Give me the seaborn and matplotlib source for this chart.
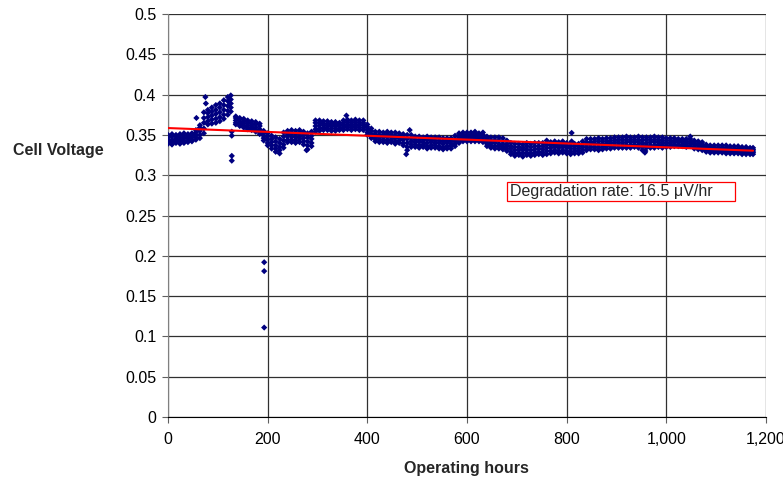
import matplotlib
matplotlib.use("Agg")
import matplotlib.pyplot as plt
import matplotlib.ticker as mticker
from matplotlib.patches import Rectangle
import seaborn as sns
import pandas as pd

# ---- data ----
hours = [0, 8, 16, 24, 32, 40, 48, 56, 64, 72, 80, 88, 96, 104, 112, 120, 126,
         136, 144, 152, 160, 168, 176, 184, 192, 200, 208, 216, 224, 232,
         240, 248, 256, 264, 272, 280, 288, 296, 304, 312, 320, 328, 336, 344,
         352, 360, 368, 376, 384, 392, 400, 408, 416, 424, 432, 440, 448, 456,
         464, 472, 480, 488, 496, 504, 512, 520, 528, 536, 544, 552, 560, 568,
         576, 584, 592, 600, 608, 616, 624, 632, 640, 648, 656, 664, 672, 680,
         688, 696, 704, 712, 720, 728, 736, 744, 752, 760, 768, 776, 784, 792,
         800, 808, 816, 824, 832, 840, 848, 856, 864, 872, 880, 888, 896, 904,
         912, 920, 928, 936, 944, 952, 960, 968, 976, 984, 992, 1000, 1008,
         1016, 1024, 1032, 1040, 1048, 1056, 1064, 1072, 1080, 1088, 1096,
         1104, 1112, 1120, 1128, 1136, 1144, 1152, 1160, 1168, 1174]
v_low = [0.339, 0.338, 0.340, 0.339, 0.340, 0.341, 0.342, 0.344, 0.346, 0.352,
         0.363, 0.364, 0.365, 0.367, 0.370, 0.375, 0.379,
         0.363, 0.361, 0.359, 0.357, 0.356, 0.354, 0.351, 0.343, 0.337, 0.333,
         0.329, 0.327, 0.334,
         0.341, 0.341, 0.340, 0.341, 0.338, 0.332, 0.336, 0.354, 0.355, 0.356,
         0.356, 0.355, 0.355, 0.356, 0.356, 0.357, 0.356, 0.357, 0.356, 0.356,
         0.350, 0.346, 0.342, 0.341, 0.341, 0.340, 0.341, 0.339, 0.340, 0.337,
         0.331, 0.335, 0.335, 0.334, 0.335, 0.333, 0.334, 0.334, 0.333, 0.332,
         0.333, 0.333, 0.336, 0.340, 0.342, 0.342, 0.342, 0.342, 0.342, 0.341,
         0.336, 0.334, 0.333, 0.333, 0.332, 0.330, 0.326, 0.324, 0.325, 0.323,
         0.325, 0.324, 0.325, 0.326, 0.325, 0.326, 0.327, 0.328, 0.327, 0.328,
         0.327, 0.326, 0.327, 0.327, 0.328, 0.331, 0.332, 0.332, 0.331, 0.332,
         0.333, 0.333, 0.334, 0.334, 0.334, 0.334, 0.334, 0.335, 0.334, 0.331,
         0.334, 0.334, 0.334, 0.335, 0.334, 0.335, 0.335, 0.336, 0.336, 0.336,
         0.335, 0.336, 0.333, 0.332, 0.331, 0.329, 0.328, 0.328, 0.328, 0.328,
         0.327, 0.327, 0.327, 0.327, 0.326, 0.326, 0.326, 0.326]
v_q1 = [0.341, 0.341, 0.342, 0.342, 0.343, 0.343, 0.344, 0.347, 0.350, 0.358,
        0.367, 0.369, 0.370, 0.372, 0.375, 0.380, 0.384,
        0.365, 0.363, 0.361, 0.359, 0.358, 0.356, 0.354, 0.346, 0.340, 0.337,
        0.333, 0.331, 0.338,
        0.344, 0.344, 0.343, 0.345, 0.342, 0.337, 0.340, 0.357, 0.358, 0.359,
        0.358, 0.358, 0.358, 0.358, 0.359, 0.360, 0.359, 0.360, 0.359, 0.359,
        0.353, 0.348, 0.345, 0.344, 0.344, 0.343, 0.344, 0.342, 0.343, 0.340,
        0.335, 0.338, 0.338, 0.337, 0.338, 0.336, 0.337, 0.337, 0.336, 0.335,
        0.336, 0.336, 0.339, 0.343, 0.344, 0.345, 0.344, 0.345, 0.344, 0.344,
        0.339, 0.337, 0.336, 0.336, 0.335, 0.333, 0.329, 0.327, 0.328, 0.327,
        0.328, 0.327, 0.328, 0.329, 0.328, 0.330, 0.330, 0.331, 0.330, 0.331,
        0.330, 0.329, 0.330, 0.330, 0.331, 0.334, 0.335, 0.335, 0.334, 0.335,
        0.336, 0.336, 0.337, 0.337, 0.337, 0.337, 0.337, 0.338, 0.337, 0.335,
        0.337, 0.337, 0.337, 0.338, 0.337, 0.337, 0.337, 0.338, 0.338, 0.338,
        0.337, 0.339, 0.335, 0.334, 0.333, 0.331, 0.330, 0.330, 0.330, 0.330,
        0.329, 0.329, 0.329, 0.329, 0.328, 0.328, 0.328, 0.328]
v_mid = [0.344, 0.344, 0.345, 0.344, 0.346, 0.346, 0.347, 0.350, 0.355, 0.365,
         0.372, 0.374, 0.376, 0.378, 0.381, 0.386, 0.389,
         0.368, 0.366, 0.364, 0.362, 0.361, 0.359, 0.357, 0.349, 0.344, 0.341,
         0.337, 0.335, 0.343,
         0.348, 0.348, 0.347, 0.348, 0.346, 0.342, 0.345, 0.361, 0.362, 0.362,
         0.361, 0.361, 0.361, 0.361, 0.362, 0.363, 0.362, 0.363, 0.362, 0.362,
         0.357, 0.351, 0.348, 0.347, 0.347, 0.347, 0.347, 0.346, 0.346, 0.344,
         0.340, 0.342, 0.341, 0.341, 0.341, 0.340, 0.341, 0.340, 0.340, 0.339,
         0.340, 0.339, 0.342, 0.346, 0.347, 0.348, 0.347, 0.348, 0.347, 0.347,
         0.342, 0.340, 0.340, 0.339, 0.338, 0.336, 0.333, 0.331, 0.332, 0.331,
         0.332, 0.331, 0.332, 0.333, 0.332, 0.334, 0.334, 0.335, 0.334, 0.335,
         0.334, 0.333, 0.333, 0.333, 0.335, 0.338, 0.338, 0.339, 0.338, 0.339,
         0.339, 0.340, 0.340, 0.341, 0.340, 0.341, 0.341, 0.341, 0.341, 0.339,
         0.340, 0.341, 0.341, 0.341, 0.340, 0.340, 0.340, 0.341, 0.341, 0.341,
         0.340, 0.342, 0.338, 0.337, 0.336, 0.334, 0.333, 0.332, 0.332, 0.332,
         0.332, 0.331, 0.331, 0.331, 0.330, 0.330, 0.330, 0.330]
v_q3 = [0.347, 0.348, 0.348, 0.347, 0.349, 0.349, 0.350, 0.353, 0.359, 0.371,
        0.377, 0.379, 0.381, 0.384, 0.387, 0.392, 0.394,
        0.371, 0.369, 0.367, 0.365, 0.364, 0.363, 0.361, 0.352, 0.348, 0.345,
        0.342, 0.340, 0.348,
        0.351, 0.352, 0.351, 0.352, 0.350, 0.347, 0.349, 0.365, 0.365, 0.364,
        0.364, 0.363, 0.364, 0.363, 0.365, 0.366, 0.365, 0.366, 0.365, 0.365,
        0.360, 0.355, 0.351, 0.350, 0.350, 0.351, 0.350, 0.349, 0.349, 0.347,
        0.345, 0.346, 0.344, 0.344, 0.344, 0.344, 0.344, 0.343, 0.343, 0.342,
        0.343, 0.342, 0.345, 0.349, 0.350, 0.350, 0.350, 0.351, 0.350, 0.350,
        0.345, 0.343, 0.343, 0.343, 0.342, 0.339, 0.336, 0.335, 0.335, 0.334,
        0.336, 0.335, 0.336, 0.336, 0.336, 0.338, 0.337, 0.338, 0.337, 0.338,
        0.337, 0.336, 0.336, 0.336, 0.338, 0.341, 0.341, 0.342, 0.342, 0.342,
        0.342, 0.343, 0.343, 0.344, 0.344, 0.344, 0.344, 0.344, 0.344, 0.343,
        0.344, 0.344, 0.344, 0.344, 0.343, 0.343, 0.343, 0.343, 0.343, 0.343,
        0.342, 0.345, 0.340, 0.339, 0.338, 0.336, 0.335, 0.334, 0.334, 0.334,
        0.334, 0.333, 0.333, 0.333, 0.332, 0.332, 0.332, 0.332]
v_high = [0.350, 0.351, 0.350, 0.351, 0.352, 0.351, 0.352, 0.356, 0.362, 0.378,
          0.381, 0.384, 0.387, 0.389, 0.393, 0.397, 0.399,
          0.373, 0.371, 0.370, 0.368, 0.367, 0.366, 0.364, 0.355, 0.352, 0.349,
          0.347, 0.345, 0.353,
          0.355, 0.356, 0.355, 0.356, 0.354, 0.352, 0.354, 0.368, 0.368, 0.367,
          0.367, 0.366, 0.366, 0.365, 0.368, 0.369, 0.368, 0.369, 0.368, 0.368,
          0.363, 0.358, 0.354, 0.354, 0.353, 0.354, 0.353, 0.353, 0.352, 0.351,
          0.350, 0.350, 0.348, 0.348, 0.347, 0.348, 0.347, 0.347, 0.347, 0.346,
          0.346, 0.346, 0.349, 0.352, 0.353, 0.353, 0.353, 0.354, 0.352, 0.353,
          0.348, 0.347, 0.347, 0.347, 0.346, 0.343, 0.340, 0.339, 0.339, 0.338,
          0.340, 0.339, 0.340, 0.340, 0.340, 0.343, 0.341, 0.342, 0.341, 0.342,
          0.340, 0.340, 0.339, 0.339, 0.342, 0.345, 0.345, 0.345, 0.346, 0.345,
          0.346, 0.346, 0.347, 0.347, 0.347, 0.348, 0.347, 0.347, 0.348, 0.347,
          0.347, 0.347, 0.348, 0.347, 0.347, 0.346, 0.346, 0.346, 0.345, 0.345,
          0.345, 0.348, 0.343, 0.342, 0.341, 0.338, 0.337, 0.337, 0.337, 0.337,
          0.337, 0.336, 0.336, 0.336, 0.335, 0.335, 0.334, 0.334]

# isolated readings
outlier_hours = [57, 75, 76, 128, 128, 128, 128, 193, 193, 193, 278, 358, 478, 485,
                 810, 810, 957, 958]
outlier_volts = [0.371, 0.397, 0.389, 0.354, 0.349, 0.324, 0.318, 0.192, 0.181, 0.111,
                 0.331, 0.374, 0.326, 0.356, 0.3525, 0.342, 0.328, 0.330]

# linear trend line endpoints
trend_hours = [0, 1174]
trend_volts = [0.3585, 0.3304]

annotation = "Degradation rate: 16.5 \u03bcV/hr"
x_ticks = [0, 200, 400, 600, 800, 1000, 1200]
y_ticks = [0, 0.05, 0.1, 0.15, 0.2, 0.25, 0.3, 0.35, 0.4, 0.45, 0.5]

# ---- build long table ----
pts_h = hours * 5 + outlier_hours
pts_v = v_low + v_q1 + v_mid + v_q3 + v_high + outlier_volts
df = pd.DataFrame({"hours": pts_h, "volts": pts_v})
trend = pd.DataFrame({"hours": trend_hours, "volts": trend_volts})

sns.set_style("white")
plt.rcParams["font.family"] = ["Liberation Sans", "DejaVu Sans"]

W, H = 783, 482
FS = 11.5
fig = plt.figure(figsize=(W / 100, H / 100), dpi=100)
ax = fig.add_axes([168 / W, 1 - 417 / H, (766 - 168) / W, (417 - 14) / H])

sns.scatterplot(data=df, x="hours", y="volts", ax=ax, marker="D", color="#000080",
                s=10, linewidth=0, edgecolor="none", zorder=3)
sns.lineplot(data=trend, x="hours", y="volts", ax=ax, color="#ff0000", linewidth=1.5,
             zorder=4)

ax.set_xlim(0, 1200)
ax.set_ylim(0, 0.5)
ax.set_xticks(x_ticks)
ax.set_yticks(y_ticks)
ax.xaxis.set_major_formatter(mticker.FuncFormatter(lambda v, p: f"{int(v):,}"))
ax.yaxis.set_major_formatter(mticker.FuncFormatter(lambda v, p: f"{v:g}"))
ax.grid(True, color="#303030", linewidth=0.9)
ax.set_axisbelow(True)
for side in ["top", "right"]:
    ax.spines[side].set_visible(False)
ax.spines["left"].set_color("#808080")
ax.spines["bottom"].set_color("#000000")
ax.tick_params(axis="both", direction="out", length=4.5, width=0.8, color="#606060",
               labelsize=FS, labelcolor="black", bottom=True, left=True)
ax.tick_params(axis="x", pad=6)
ax.tick_params(axis="y", pad=4)
ax.set_xlabel("")
ax.set_ylabel("")

fig.text(58 / W, 1 - 151 / H, "Cell Voltage", ha="center", va="center",
         fontsize=FS, fontweight="bold")
fig.text(466 / W, 1 - 468 / H, "Operating hours", ha="center", va="center",
         fontsize=FS, fontweight="bold")

fig.patches.append(Rectangle((507 / W, 1 - 201 / H), (735 - 507) / W, (201 - 182) / H,
                             transform=fig.transFigure, facecolor="white",
                             edgecolor="#ff0000", linewidth=0.9, zorder=5))
fig.text(510 / W, 1 - 192 / H, annotation, ha="left", va="center", fontsize=FS,
         zorder=6)

fig.savefig("out.png", dpi=100)
